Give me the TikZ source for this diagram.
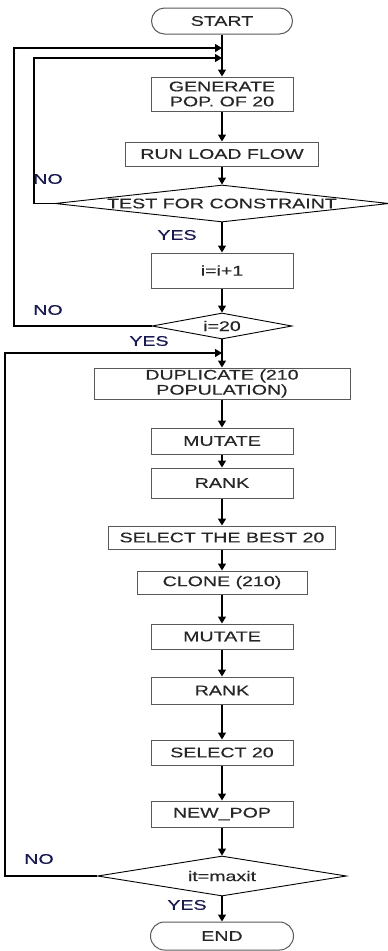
\documentclass[tikz,border=0pt]{standalone}
\usepackage{fontspec}
\newfontfamily\flowfont{Liberation Sans}[FakeStretch=1.4, FakeBold=0.4]
\usetikzlibrary{shapes.geometric,arrows.meta}
\definecolor{boxline}{rgb}{0.35,0.35,0.35}
\definecolor{boxtext}{rgb}{0.15,0.15,0.15}
\definecolor{answer}{rgb}{0.1,0.1,0.32}

\tikzset{
  flowtext/.style={font=\flowfont\fontsize{14}{15}\selectfont, text=boxtext},
  stepbox/.style={flowtext, draw=boxline, line width=1pt, inner sep=0pt,
    minimum width=142pt, align=center},
  terminal/.style={stepbox, rounded corners=13pt},
  decision/.style={diamond, draw=black, line width=0.9pt, inner sep=0pt},
  answer/.style={font=\flowfont\fontsize{14}{15}\selectfont, text=answer},
  flow/.style={draw=black, line width=1.1pt, -{Triangle[length=7pt,width=8pt]}}
}

\begin{document}
\begin{tikzpicture}[x=1pt, y=-1pt]
  \useasboundingbox (0,0) rectangle (388,951);

  % first part: initial population
  \node[terminal, minimum width=141pt, minimum height=26pt] (start) at (222,21) {START};
  \node[stepbox, minimum height=34pt] (gen) at (222,94) {GENERATE\\POP. OF 20};
  \node[stepbox, minimum width=193pt, minimum height=24pt] (run) at (222,154) {RUN LOAD FLOW};
  \node[decision, minimum width=334pt, minimum height=37pt,
    label={[flowtext]center:TEST FOR CONSTRAINT}] (test) at (222,203.5) {};
  \node[stepbox, minimum height=35pt] (inc) at (222,270.5) {i=i+1};
  \node[decision, minimum width=140pt, minimum height=26pt,
    label={[flowtext]center:i=20}] (chk) at (222,326) {};

  % second part: clonal loop
  \node[stepbox, minimum width=256pt, minimum height=31pt] (dup) at (222,383.5) {DUPLICATE (210\\POPULATION)};
  \node[stepbox, minimum height=26pt] (mut1) at (222,441) {MUTATE};
  \node[stepbox, minimum height=30pt] (rank1) at (222,483) {RANK};
  \node[stepbox, minimum width=227pt, minimum height=23pt] (best) at (222,537.5) {SELECT THE BEST 20};
  \node[stepbox, minimum width=170pt, minimum height=23pt] (clone) at (222,582.5) {CLONE (210)};
  \node[stepbox, minimum height=25pt] (mut2) at (222,636.5) {MUTATE};
  \node[stepbox, minimum height=27pt] (rank2) at (222,690.5) {RANK};
  \node[stepbox, minimum height=25pt] (sel) at (222,752.5) {SELECT 20};
  \node[stepbox, minimum height=26pt] (newpop) at (222,814) {NEW\_POP};
  \node[decision, minimum width=249pt, minimum height=40pt,
    label={[flowtext]center:it=maxit}] (last) at (222,876) {};
  \node[terminal, minimum width=143pt, minimum height=28pt, rounded corners=14pt] (end) at (222,936) {END};

  % joints and corners of the loops
  \coordinate (j1) at (222,48);
  \coordinate (j2) at (222,58);
  \coordinate (j3) at (222,353);
  \coordinate (c1) at (14,326);
  \coordinate (c2) at (34,203.5);
  \coordinate (c3) at (5,876);

  % main line
  \draw[flow] (start) -- (gen);
  \draw[flow] (gen) -- (run);
  \draw[flow] (run) -- (test);
  \draw[flow] (test) -- (inc);
  \draw[flow] (inc) -- (chk);
  \draw[flow] (chk) -- (dup);
  \draw[flow] (dup) -- (mut1);
  \draw[flow] (mut1) -- (rank1);
  \draw[flow, line width=1.8pt] (rank1) -- (best);
  \draw[flow] (best) -- (clone);
  \draw[flow] (clone) -- (mut2);
  \draw[flow] (mut2) -- (rank2);
  \draw[flow] (rank2) -- (sel);
  \draw[flow] (sel) -- (newpop);
  \draw[flow] (newpop) -- (last);
  \draw[flow] (last) -- (end);

  % loops back
  \draw[flow] (chk.west) -- (c1) |- (j1);
  \draw[flow] (test.west) -- (c2) |- (j2);
  \draw[flow] (last.west) -- (c3) |- (j3);

  % answers
  \node[answer] (no1) at (48,179) {NO};
  \node[answer] (yes1) at (177,235) {YES};
  \node[answer] (no2) at (48,310) {NO};
  \node[answer] (yes2) at (149,341) {YES};
  \node[answer] (no3) at (39,859) {NO};
  \node[answer] (yes3) at (187,905) {YES};

\end{tikzpicture}
\end{document}
